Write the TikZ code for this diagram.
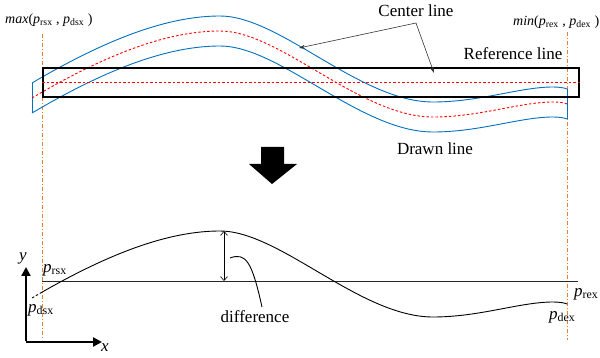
\documentclass[tikz,border=0pt]{standalone}
\usepackage{fontspec}
\setmainfont{Liberation Serif}
\usetikzlibrary{arrows.meta}
\definecolor{cblue}{RGB}{0,112,192}
\definecolor{corange}{RGB}{237,125,49}
\definecolor{cred}{RGB}{255,0,0}
\newcommand\pvar[1]{\textit{p}\textsubscript{#1}}
\begin{document}
\begin{tikzpicture}[x=1pt,y=-1pt,font=\fontsize{17}{20}\selectfont,
  lbl/.style={inner sep=0pt},
  small/.style={inner sep=0pt,font=\fontsize{14}{16}\selectfont},
  guide/.style={draw=corange,line width=0.9pt,dash pattern=on 4pt off 2pt on 1pt off 2pt},
  drawn/.style={draw=cblue,line width=0.9pt},
  centre/.style={draw=cred,line width=0.9pt,dash pattern=on 2.5pt off 2pt},
  leader/.style={draw=black!80,line width=0.6pt,-{Stealth[length=6pt,width=4pt]}},
  axis/.style={draw=black,line width=2.6pt,-{Triangle[length=9pt,width=9pt]}}]
\useasboundingbox (0,0) rectangle (600,358);
\def\curvepath{(32,98) .. controls (110,52) and (170,31) .. (220,31) .. controls (280,31) and (360,117) .. (433,117) .. controls (480,117) and (520,102) .. (553,102) .. controls (560,102) and (565,103) .. (567,104)}
% guides
\coordinate (gl1) at (42,34); \coordinate (gl2) at (42,340);
\coordinate (gr1) at (567,32); \coordinate (gr2) at (567,340);
\draw[guide] (gl1) -- (gl2);
\draw[guide] (gr1) -- (gr2);
% drawn line band
\draw[drawn,yshift=15pt] \curvepath;
\draw[drawn,yshift=-15pt] \curvepath;
\draw[drawn] (32,83) -- (32,113);
\draw[drawn] (567,89) -- (567,119);
\draw[centre] \curvepath;
% reference line
\node[draw=black,line width=1.8pt,minimum width=536pt,minimum height=29pt,inner sep=0pt,anchor=north west] (refbox) at (42,67) {};
\draw[centre] (refbox.west) -- (refbox.east);
% labels top
\node[small,anchor=west] (maxl) at (5,20) {\textit{max}(\pvar{rsx} , \pvar{dsx} )};
\node[small,anchor=west] (minl) at (513,22) {\textit{min}(\pvar{rex} , \pvar{dex} )};
\node[lbl] (cl) at (416,11) {Center line};
\node[lbl] (rl) at (513,54) {Reference line};
\node[lbl] (dl) at (435,149) {Drawn line};
\coordinate (clj) at (416,23);
\coordinate (clt1) at (299,48);
\coordinate (clt2) at (434,73);
\draw[leader] (clj) -- (clt1);
\draw[leader] (clj) -- (clt2);
% big arrow
\fill[black] (261,147) -- (284,147) -- (284,164) -- (297,164) -- (272,184) -- (249,164) -- (261,164) -- cycle;
% lower plot
\coordinate (b1) at (42,281); \coordinate (b2) at (578,281);
\draw[black!85,line width=0.9pt] (b1) -- (b2);
\begin{scope}[yshift=-200pt]
\begin{scope}
\clip (42,0) rectangle (600,200);
\draw[black,line width=0.9pt] \curvepath;
\end{scope}
\begin{scope}
\clip (0,0) rectangle (42,200);
\draw[black,line width=0.9pt,dash pattern=on 2.5pt off 2pt] \curvepath;
\end{scope}
\end{scope}
\coordinate (d1) at (224,231); \coordinate (d2) at (224,281);
\draw[black,line width=0.6pt,{Straight Barb[length=4pt,width=7pt]}-{Straight Barb[length=4pt,width=7pt]}] (d1) -- (d2);
\node[lbl] (diff) at (255,317) {difference};
\coordinate (dl1) at (230,258);
\coordinate (dl2) at (262,307);
\draw[black,line width=0.9pt] (dl1) .. controls (246,252) and (252,262) .. (dl2);
% axes
\coordinate (o) at (26,342);
\coordinate (xe) at (102,342);
\coordinate (ye) at (26,267);
\draw[axis] (o) -- (xe);
\draw[axis] ([yshift=1.3pt]o) -- (ye);
\node[lbl] (xl) at (105,348) {\textit{x}};
\node[lbl] (yl) at (23,258) {\textit{y}};
\node[lbl,anchor=west] (prs) at (43,270) {\pvar{rsx}};
\node[lbl,anchor=west] (pds) at (28,310) {\pvar{dsx}};
\node[lbl,anchor=west] (pre) at (574,294) {\pvar{rex}};
\node[lbl,anchor=west] (pde) at (549,317) {\pvar{dex}};
\end{tikzpicture}
\end{document}
